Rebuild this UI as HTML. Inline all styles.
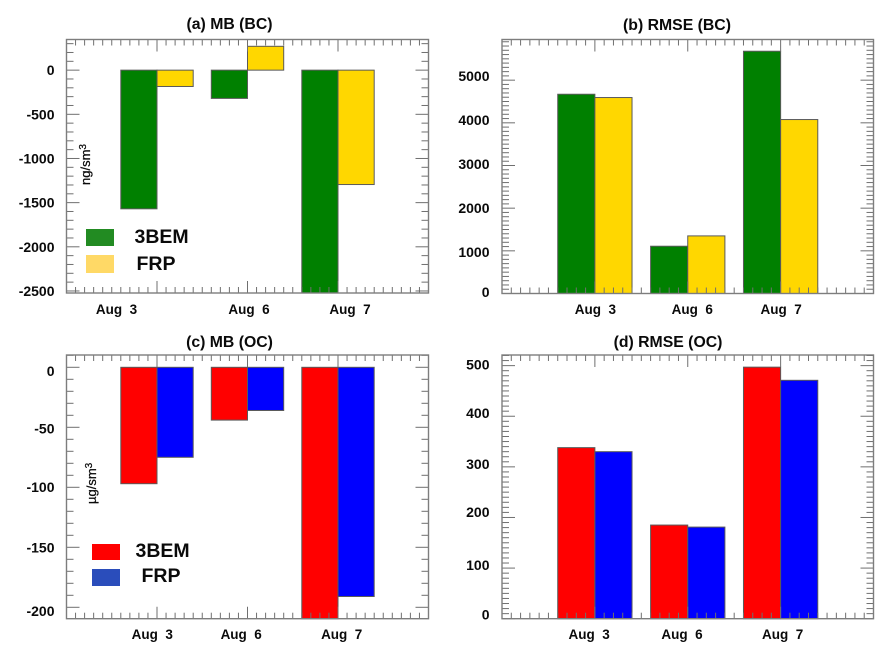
<!DOCTYPE html>
<html>
<head>
<meta charset="utf-8">
<title>MB and RMSE for BC and OC</title>
<style>
html,body{margin:0;padding:0;background:#fff;width:893px;height:659px;overflow:hidden}
svg{display:block;font-family:"Liberation Sans",Arial,sans-serif;font-weight:bold;fill:#0a0a0a}
</style>
</head>
<body>
<svg id="figure" width="893" height="659" viewBox="0 0 893 659" xmlns="http://www.w3.org/2000/svg"></svg>
<script>
const categories = ["Aug\u00A0\u00A03", "Aug\u00A0\u00A06", "Aug\u00A0\u00A07"];
const seriesNames = ["3BEM", "FRP"];

const mbBc3bem = [-1570, -320, -2600];
const mbBcFrp = [-185, 270, -1295];
const rmseBc3bem = [4670, 1108, 5678];
const rmseBcFrp = [4593, 1350, 4077];
const mbOc3bem = [-97, -44, -215];
const mbOcFrp = [-75, -36, -191];
const rmseOc3bem = [338, 185, 497];
const rmseOcFrp = [330, 181, 471];

const mbBcTicks = [0, -500, -1000, -1500, -2000, -2500];
const rmseBcTicks = [0, 1000, 2000, 3000, 4000, 5000];
const mbOcTicks = [0, -50, -100, -150, -200];
const rmseOcTicks = [0, 100, 200, 300, 400, 500];

const svgNS = "http://www.w3.org/2000/svg";
const root = document.getElementById("figure");

function mk(tag, attrs, parent, text) {
  const el = document.createElementNS(svgNS, tag);
  for (const k in attrs) el.setAttribute(k, attrs[k]);
  if (text !== undefined) el.textContent = text;
  parent.appendChild(el);
  return el;
}

function drawPanel(p) {
  const g = mk("g", {}, root);
  
  

  const X = v => p.x0 + (v / 4) * (p.x1 - p.x0);
  const Y = v => p.y1 - (v - p.ymin) / (p.ymax - p.ymin) * (p.y1 - p.y0);
  const clampY = py => Math.min(p.y1, Math.max(p.y0, py));

  const title = mk("text", {x: p.titleX, y: p.titleY, "text-anchor": "middle", "font-size": 15.8}, g, p.title);
  
  

  // bars
  const barW = (X(1) - X(0)) * 0.4;
  p.series.forEach((vals, s) => {
    vals.forEach((v, i) => {
      const cx = X(i + 1);
      const left = s === 0 ? cx - barW : cx;
      const a = clampY(Y(0));
      const b = clampY(Y(v));
      const bar = mk("rect", {
        x: left, y: Math.min(a, b), width: barW, height: Math.abs(b - a),
        fill: p.colors[s], stroke: "#5a5a5a", "stroke-width": 1
      }, g);
      
      
    });
  });

  // ticks
  const ticks = mk("g", {stroke: "#6f6f6f", "stroke-width": 1, fill: "none"}, g);
  
  
  for (let k = 0; k <= 40; k++) {
    const x = X(k / 10);
    const len = k % 10 === 0 ? 12 : 6;
    mk("line", {x1: x, x2: x, y1: p.y0, y2: p.y0 + len}, ticks);
    mk("line", {x1: x, x2: x, y1: p.y1, y2: p.y1 - len}, ticks);
  }
  const startM = Math.ceil(p.ymin / p.minor);
  const endM = Math.floor(p.ymax / p.minor);
  for (let m = startM; m <= endM; m++) {
    const v = m * p.minor;
    const y = Y(v);
    const len = v % p.major === 0 ? 13 : 7;
    mk("line", {x1: p.x0, x2: p.x0 + len, y1: y, y2: y}, ticks);
    mk("line", {x1: p.x1, x2: p.x1 - len, y1: y, y2: y}, ticks);
  }

  // frame
  const frame = mk("rect", {x: p.x0, y: p.y0, width: p.x1 - p.x0, height: p.y1 - p.y0, fill: "none", stroke: "#7d7d7d", "stroke-width": 1.4}, g);
  
  

  // y tick labels
  p.ticks.forEach((v, i) => {
    const t = mk("text", {x: p.labelX, y: Y(v) + 5 + p.labelNudge[i], "text-anchor": "end", "font-size": 14}, g, String(v));
    
    
  });

  // x tick labels
  categories.forEach((c, i) => {
    const t = mk("text", {x: X(i + 1) + p.catNudge[i], y: p.catY, "text-anchor": "middle", "font-size": 13.5}, g, c);
    
    
  });

  // unit label
  if (p.unit) {
    const u = mk("text", {transform: "translate(" + p.unitX + " " + p.unitY + ") rotate(-90)", "font-size": 13, "font-weight": "normal", stroke: "#0a0a0a", "stroke-width": 0.25}, g);
    
    
    mk("tspan", {}, u, p.unit);
    mk("tspan", {dy: -4, "font-size": 10}, u, "3");
  }

  // legend
  if (p.legend) {
    const lg = mk("g", {}, g);
    
    
    p.legend.forEach((e, i) => {
      const sw = mk("rect", {x: e.sx, y: e.sy, width: 28, height: e.sh, fill: e.color}, lg);
      
      
      const t = mk("text", {x: e.tx, y: e.ty, "font-size": 19.5}, lg, seriesNames[i]);
      
      
    });
  }
}

drawPanel({
  name: "panel-mb-bc", title: "(a) MB (BC)", titleX: 229.5, titleY: 29,
  x0: 66.5, x1: 428.5, y0: 39.5, y1: 293, ymin: -2523, ymax: 347,
  major: 500, minor: 100, ticks: mbBcTicks, labelX: 54.5,
  labelNudge: [0, 0, 0, 0, 0, 0],
  series: [mbBc3bem, mbBcFrp], colors: ["#008000", "#ffd700"],
  catY: 314, catNudge: [-40.5, 1.5, 12],
  unit: "ng/sm", unitX: 90, unitY: 185,
  legend: [
    {sx: 86, sy: 229, sh: 17, color: "#228b22", tx: 134.5, ty: 243},
    {sx: 86, sy: 255, sh: 18, color: "#ffd966", tx: 136.5, ty: 270}
  ]
});

drawPanel({
  name: "panel-rmse-bc", title: "(b) RMSE (BC)", titleX: 677, titleY: 30,
  x0: 502, x1: 873.5, y0: 39.5, y1: 293.5, ymin: 0, ymax: 5953,
  major: 1000, minor: 100, ticks: rmseBcTicks, labelX: 489.5,
  labelNudge: [-1.7, 1, 0, -1.3, -2.7, -4.3],
  series: [rmseBc3bem, rmseBcFrp], colors: ["#008000", "#ffd700"],
  catY: 314, catNudge: [0.5, 4.5, 0.5]
});

drawPanel({
  name: "panel-mb-oc", title: "(c) MB (OC)", titleX: 229.5, titleY: 347,
  x0: 66.5, x1: 428.5, y0: 355, y1: 618.7, ymin: -209.5, ymax: 10.25,
  major: 50, minor: 10, ticks: mbOcTicks, labelX: 54.5,
  labelNudge: [3.7, 1.4, -0.3, 0, 3.7],
  series: [mbOc3bem, mbOcFrp], colors: ["#ff0000", "#0000ff"],
  catY: 639, catNudge: [-4.7, -6.3, 3.7],
  unit: "\u00B5g/sm", unitX: 96, unitY: 504,
  legend: [
    {sx: 92, sy: 544, sh: 16, color: "#ff0000", tx: 135.5, ty: 557},
    {sx: 92, sy: 569, sh: 17, color: "#2a4dbb", tx: 141.5, ty: 582}
  ]
});

drawPanel({
  name: "panel-rmse-oc", title: "(d) RMSE (OC)", titleX: 668, titleY: 347,
  x0: 502, x1: 873.5, y0: 355, y1: 618.7, ymin: 0, ymax: 521,
  major: 100, minor: 10, ticks: rmseOcTicks, labelX: 489.5,
  labelNudge: [-4, -3, -5.4, -3, -3.3, -1],
  series: [rmseOc3bem, rmseOcFrp], colors: ["#ff0000", "#0000ff"],
  catY: 639, catNudge: [-5.7, -5.7, 2]
});
</script>
</body>
</html>
